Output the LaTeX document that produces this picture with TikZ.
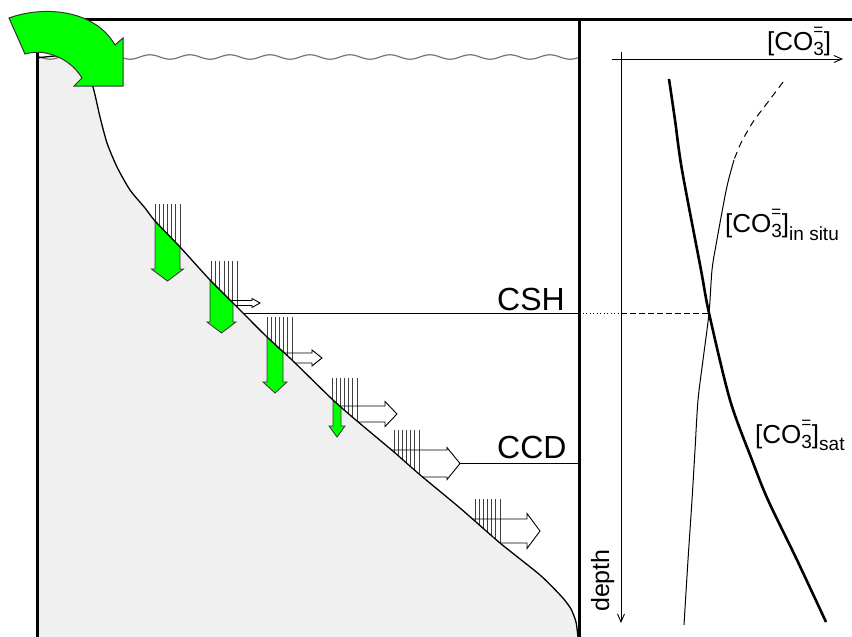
\documentclass[tikz,border=0pt]{standalone}
\usepackage{fontspec}
\setmainfont{Liberation Sans}
\usetikzlibrary{arrows.meta}

\definecolor{floor}{gray}{0.94}
\definecolor{flowgreen}{rgb}{0,1,0}

% carbonate ion concentration [CO_3^=]
\newcommand\carbion{[CO\rlap{\raisebox{15pt}{\fontsize{17}{17}\selectfont =}}\raisebox{-5pt}{\fontsize{19}{19}\selectfont 3}]}
% rain of particles: x left, x right, top y
\newcommand\rain[3]{\foreach \k in {0,...,6} \draw[hatch] ({#1+\k*(#2-#1)/6},#3) -- ++(0,100);}
% open dissolution arrow: y centre, shaft half height, head half height, head x, tip x, start x
\newcommand\flowarrow[6]{\draw[flowline] ({#6},{#1-#2}) -- ({#4},{#1-#2}) -- ({#4},{#1-#3}) -- ({#5},{#1}) -- ({#4},{#1+#3}) -- ({#4},{#1+#2}) -- ({#6},{#1+#2});}
% green burial arrow: x left, x right, y top left, y top right, head y, barb, tip y
\newcommand\sinkarrow[7]{\draw[sink] (#1,#3) -- (#2,#4) -- (#2,#5) -- ({#2+#6},#5) -- ({(#1+#2)/2},#7) -- ({#1-#6},#5) -- (#1,#5) -- cycle;}
% sea floor profile
\newcommand\floorpoints{(37,58) (62,56) (84,66) (93,87) (100,117) (107,143) (117,167) (130,190) (145,208) (155,221) (180,247) (210,280) (237,307) (267,337) (292,360) (333,400) (357,421) (394,452) (419,474) (460,508) (500,543) (540,575) (562,597) (571,609) (576,622) (578,637)}

\begin{document}
\begin{tikzpicture}[x=1pt,y=-1pt,
  frame/.style={line width=3pt},
  hatch/.style={black!75, line width=1pt},
  flowline/.style={line width=0.9pt, line join=miter},
  sink/.style={fill=flowgreen, draw=black!80, line width=0.8pt, line join=miter},
  slope/.style={line width=1.3pt},
  axisline/.style={line width=0.9pt, -{Straight Barb[length=8pt,width=7pt]}},
  lbl/.style={inner sep=0pt, anchor=base west, font=\fontsize{26}{28}\selectfont},
  level/.style={inner sep=0pt, anchor=base west, font=\fontsize{32}{34}\selectfont},
]
\useasboundingbox (0,0) rectangle (852,637);

% particle rain above the slope
\rain{155}{180}{204}
\rain{211}{237}{261}
\rain{267}{292}{317}
\rain{332}{357}{378}
\rain{394}{419}{430}
\rain{475}{500}{499}

% dissolution arrows
\flowarrow{303}{2.5}{4.5}{252}{260}{215}
\flowarrow{358}{5}{8}{312}{322}{270}
\flowarrow{414}{8}{12.5}{385}{397}{320}
\flowarrow{463.5}{13.5}{16}{447}{460}{370}
\flowarrow{531}{12}{17.5}{527}{540}{450}

% CSH and CCD levels
\draw[line width=1pt] (200,313) -- (579,313);
\draw[line width=1pt] (460,463.5) -- (579,463.5);

% sea floor
\fill[floor] plot[smooth, tension=0.4] coordinates {\floorpoints} -- (37,637) -- cycle;

% sea surface
\draw[black!55, line width=1.2pt] plot[domain=37:578, samples=300, smooth] (\x,{57+2.2*sin(9*\x)});

% burial arrows
\sinkarrow{155}{180}{221}{247}{269}{3.5}{281}
\sinkarrow{210}{233}{280}{303}{322}{3}{333}
\sinkarrow{267}{283}{337}{352}{382}{4}{393}
\sinkarrow{333}{341}{400}{407}{426}{4}{437}

\draw[slope] plot[smooth, tension=0.4] coordinates {\floorpoints};

% frame
\draw[frame] (37,637) -- (37,19) -- (852,19);
\draw[frame] (579,19) -- (579,637);

% carbonate input
\draw[sink, line width=1pt] (9,18) .. controls (45,5) and (95,10) .. (115,45) -- (123,38) -- (123,86) -- (74,86) -- (82,78) .. controls (70,58) and (45,48) .. (25,54) -- cycle;

% profile axes
\coordinate (origin) at (621,59);
\draw[axisline] (612,59) -- (843,59);
\draw[axisline] (621,52) -- (621,623);

% saturation and in situ profiles
\draw[line width=2.6pt] plot[smooth] coordinates {(669,79) (675,120) (682,170) (701,270) (709,313) (730,400) (752,460) (768,500) (797,560) (826,622)};
\draw[line width=1pt, dash pattern=on 7pt off 5pt] plot[smooth] coordinates {(783,82) (768,102) (753,122) (741,143) (734,160)};
\draw[line width=1pt] plot[smooth] coordinates {(734,160) (729,178) (725,196) (716,245) (712,270) (709,313) (703,360) (698,400) (695,450) (692,500) (688,560) (684,625)};

\coordinate (cross) at (709,313);
\draw[line width=1pt, dash pattern=on 1pt off 2.5pt] (579,313) -- (621,313);
\draw[line width=1pt, dash pattern=on 6pt off 3pt] (621,313) -- (cross);

% labels
\node[lbl] (conc) at (767,50) {\carbion};
\node[lbl] (insitu) at (725,232) {\carbion\raisebox{-8pt}{\fontsize{19}{19}\selectfont in situ}};
\node[lbl] (sat) at (755,443) {\carbion\raisebox{-7pt}{\fontsize{19}{19}\selectfont sat}};
\node[level] (csh) at (497,310) {CSH};
\node[level] (ccd) at (497,458) {CCD};
\node[inner sep=0pt, anchor=base west, rotate=90, font=\fontsize{25}{27}\selectfont] (depth) at (609,612) {depth};
\end{tikzpicture}
\end{document}
